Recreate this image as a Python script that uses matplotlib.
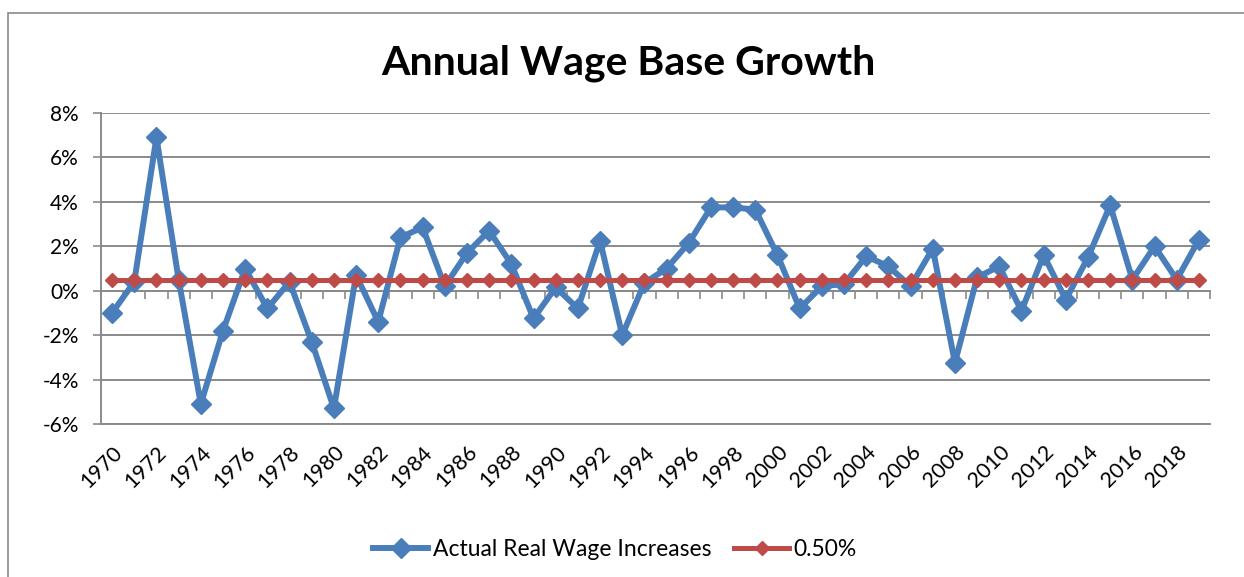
import numpy as np
import matplotlib
matplotlib.use("Agg")
import matplotlib.pyplot as plt
from matplotlib.patches import Rectangle
from matplotlib.ticker import FuncFormatter

plt.rcParams["font.family"] = ["Lato", "DejaVu Sans"]

# dados
anos = list(range(1970, 2020))
aumentos = [-1.0, 0.4, 6.9, 0.5, -5.1, -1.8, 1.0, -0.8, 0.4, -2.3,
            -5.3, 0.7, -1.4, 2.4, 2.85, 0.2, 1.7, 2.7, 1.2, -1.25,
            0.15, -0.8, 2.25, -2.0, 0.35, 1.0, 2.15, 3.75, 3.75, 3.65,
            1.6, -0.8, 0.2, 0.3, 1.55, 1.1, 0.2, 1.9, -3.25, 0.6,
            1.1, -0.9, 1.6, -0.4, 1.5, 3.85, 0.5, 2.0, 0.5, 2.3]
meta = [0.5] * len(anos)
rotulos = [str(a) if a % 2 == 0 else "" for a in anos]

azul = "#4a7ebb"
vermelho = "#be4b48"
cinza = "#8a8a8a"

fig = plt.figure(figsize=(12.44, 5.77), dpi=100)
# borda do gráfico
fig.patches.append(Rectangle((8 / 1244, -0.1), 1.2, 1 - 13 / 577 + 0.1,
                             transform=fig.transFigure, fill=False,
                             edgecolor=cinza, linewidth=1.2))

ax = fig.add_axes([101 / 1244, 1 - 424 / 577, (1210 - 101) / 1244, (424 - 113) / 577])
x = np.arange(len(anos))

ax.plot(x, aumentos, color=azul, linewidth=4.3, marker="D", markersize=10,
        label="Actual Real Wage Increases", zorder=3)
ax.plot(x, meta, color=vermelho, linewidth=3.6, marker="D", markersize=7,
        label="0.50%", zorder=4)

ax.set_xlim(-0.5, len(anos) - 0.5)
ax.set_ylim(-6, 8)
ax.set_yticks(np.arange(-6, 9, 2))
ax.yaxis.set_major_formatter(FuncFormatter(lambda v, p: f"{v:.0f}%"))
ax.grid(axis="y", color=cinza, linewidth=1.4)
ax.set_axisbelow(True)
for s in ["top", "right"]:
    ax.spines[s].set_visible(False)
ax.spines["left"].set_color(cinza)
ax.spines["left"].set_linewidth(1.4)
ax.spines["bottom"].set_color(cinza)
ax.spines["bottom"].set_linewidth(1.4)
ax.tick_params(axis="y", length=6, width=1.2, color=cinza, pad=10, labelsize=15)

ax.set_xticks(x)
ax.set_xticklabels(rotulos, rotation=45, ha="right", rotation_mode="anchor")
ax.tick_params(axis="x", length=0, pad=13, labelsize=15.5)

# eixo horizontal no zero com marcas entre as categorias
eixo0 = ax.secondary_xaxis(0, transform=ax.transData)
eixo0.set_xticks(np.arange(-0.5, len(anos), 1))
eixo0.set_xticklabels([])
eixo0.tick_params(length=6, width=1.2, color=cinza, direction="out")
eixo0.spines["bottom"].set_color(cinza)
eixo0.spines["bottom"].set_linewidth(1.4)

fig.text(628 / 1244, 1 - 63 / 577, "Annual Wage Base Growth", ha="center",
         va="center", fontsize=29.5, fontweight="bold")

fig.legend(loc="center", bbox_to_anchor=(615 / 1244, 1 - 550 / 577), ncol=2,
           frameon=False, fontsize=16.5, handlelength=2.4, handletextpad=0.2,
           columnspacing=1.0)

fig.savefig("out.png", dpi=100)
